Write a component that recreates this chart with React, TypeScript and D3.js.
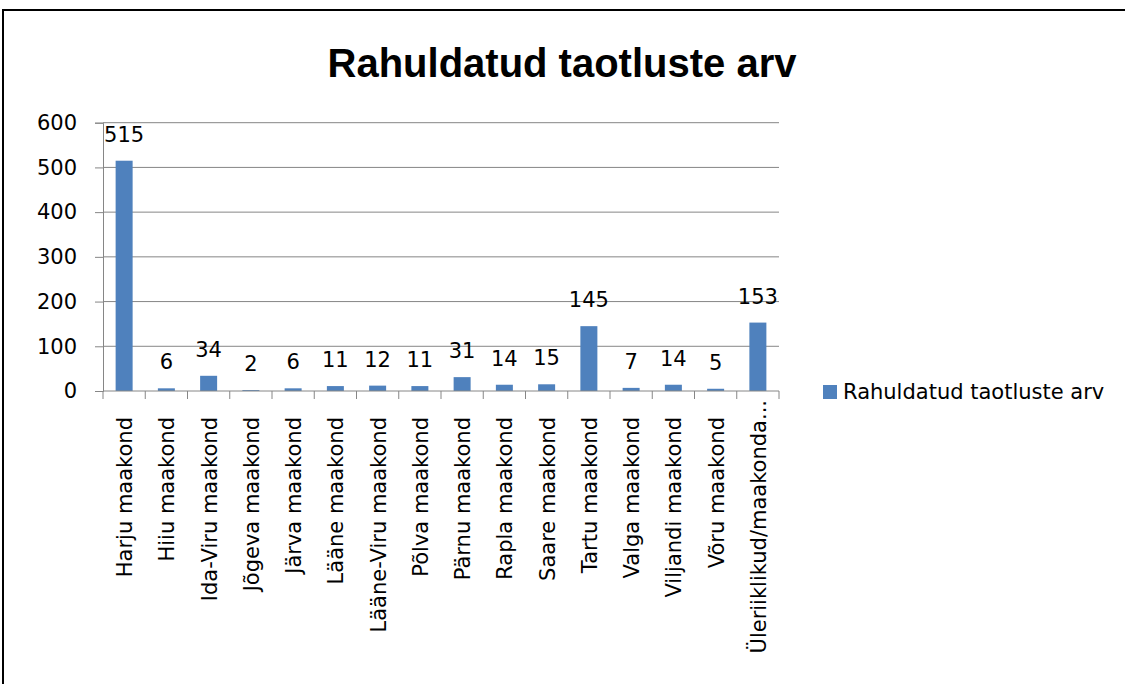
import React, { useRef, useEffect } from 'react';
import * as d3 from 'd3';

const categories = [
  'Harju maakond', 'Hiiu maakond', 'Ida-Viru maakond', 'Jõgeva maakond',
  'Järva maakond', 'Lääne maakond', 'Lääne-Viru maakond', 'Põlva maakond',
  'Pärnu maakond', 'Rapla maakond', 'Saare maakond', 'Tartu maakond',
  'Valga maakond', 'Viljandi maakond', 'Võru maakond', 'Üleriiklikud/maakonda...',
];
const values = [515, 6, 34, 2, 6, 11, 12, 11, 31, 14, 15, 145, 7, 14, 5, 153];
const yTicks = [0, 100, 200, 300, 400, 500, 600];
const seriesName = 'Rahuldatud taotluste arv';
const title = 'Rahuldatud taotluste arv';

const W = 1125;
const H = 684;
const FONT = '"DejaVu Sans", sans-serif';
const GRID = '#868686';
const BAR = '#4F81BD';

const App = () => {
  const ref = useRef<SVGSVGElement>(null);

  useEffect(() => {
    const svg = d3.select(ref.current);
    svg.selectAll('*').remove();

    const left = 103, right = 779, top = 122.7, bottom = 391;

    const band = d3.scaleBand<string>().domain(categories).range([left, right]);
    const y = d3.scaleLinear().domain([0, 600]).range([bottom, top]);
    const barW = 17;

    // outer frame (only top and left edges fall inside the picture)
    svg.append('path')
      .attr('d', `M3,${H + 10} L3,10 L${W + 10},10`)
      .attr('fill', 'none').attr('stroke', '#000').attr('stroke-width', 2);

    svg.append('text')
      .attr('x', 562).attr('y', 77)
      .attr('text-anchor', 'middle')
      .attr('font-family', '"Liberation Sans", Arial, sans-serif')
      .attr('font-weight', 'bold')
      .attr('font-size', 40)
      .text(title);

    // gridlines
    svg.append('g')
      .selectAll('line')
      .data(yTicks.filter(d => d > 0))
      .join('line')
      .attr('x1', left).attr('x2', right)
      .attr('y1', d => y(d)).attr('y2', d => y(d))
      .attr('stroke', GRID).attr('stroke-width', 1);

    // y axis
    const yAxis = svg.append('g')
      .attr('transform', `translate(${left},0)`)
      .call(d3.axisLeft(y).tickValues(yTicks).tickSize(8).tickPadding(18).tickFormat(d3.format('d')));
    yAxis.select('.domain').attr('stroke', GRID);
    yAxis.selectAll('line').attr('stroke', GRID);
    yAxis.selectAll('text')
      .attr('font-family', FONT).attr('font-size', 21).attr('fill', '#000');

    // bars
    svg.append('g')
      .attr('fill', BAR)
      .selectAll('rect')
      .data(values)
      .join('rect')
      .attr('x', (d, i) => band(categories[i])! + band.bandwidth() / 2 - barW / 2)
      .attr('y', d => y(d))
      .attr('width', barW)
      .attr('height', d => bottom - y(d));

    // data labels
    svg.append('g')
      .selectAll('text')
      .data(values)
      .join('text')
      .attr('x', (d, i) => band(categories[i])! + band.bandwidth() / 2)
      .attr('y', d => y(d) - 19)
      .attr('text-anchor', 'middle')
      .attr('font-family', FONT).attr('font-size', 21)
      .text(d => d);

    // x axis
    svg.append('line')
      .attr('x1', left).attr('x2', right)
      .attr('y1', bottom).attr('y2', bottom)
      .attr('stroke', GRID);
    svg.append('g')
      .selectAll('line')
      .data(d3.range(categories.length + 1))
      .join('line')
      .attr('x1', i => left + i * band.bandwidth())
      .attr('x2', i => left + i * band.bandwidth())
      .attr('y1', bottom).attr('y2', bottom + 8)
      .attr('stroke', GRID);

    svg.append('g')
      .selectAll('text')
      .data(categories)
      .join('text')
      .attr('transform', (d, i) =>
        `translate(${band(d)! + band.bandwidth() / 2 + 8},${i === categories.length - 1 ? 400 : 417}) rotate(-90)`)
      .attr('text-anchor', 'end')
      .attr('font-family', FONT).attr('font-size', 21)
      .text(d => d);

    // legend
    svg.append('rect')
      .attr('x', 823).attr('y', 385)
      .attr('width', 14).attr('height', 14)
      .attr('fill', BAR);
    svg.append('text')
      .attr('x', 843).attr('y', 399)
      .attr('font-family', FONT).attr('font-size', 21)
      .text(seriesName);
  }, []);

  return (
    <svg
      ref={ref}
      width={W}
      height={H}
      style={{ position: 'absolute', left: 0, top: 0, background: '#fff' }}
    />
  );
};

export default App;
